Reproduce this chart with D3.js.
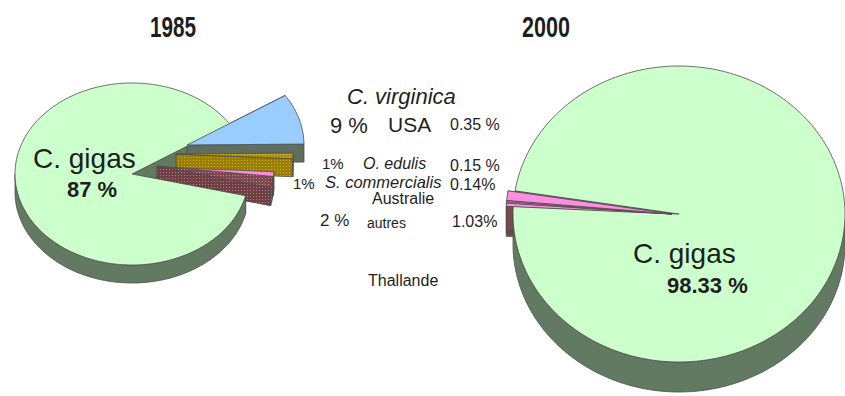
<!DOCTYPE html>
<html>
<head>
<meta charset="utf-8">
<script src="https://cdn.jsdelivr.net/npm/d3@7"></script>
<style>
  body { margin: 0; background: #fff; }
  text { font-family: "Liberation Sans", Arial, Helvetica, sans-serif; fill: #1e1e1e; }
</style>
</head>
<body>
<svg id="chart" width="845" height="396"></svg>
<script>
// Oyster production shares by species
const species   = ["C. gigas", "C. virginica", "O. edulis", "S. commercialis", "autres"];
const values1985 = [87, 9, 1, 1, 2];
const values2000 = [98.33, 0.35, 0.15, 0.14, 1.03];
const labels1985 = ["87 %", "9 %", "1%", "1%", "2 %"];
const labels2000 = ["98.33 %", "0.35 %", "0.15 %", "0.14%", "1.03%"];
const countries  = ["USA", "Australie", "Thallande"];
const years      = ["1985", "2000"];

const svg = d3.select("#chart");
const defs = svg.append("defs");

// dotted textures for the small slices
function dots(id, bg, dot) {
  const p = defs.append("pattern").attr("id", id)
    .attr("patternUnits", "userSpaceOnUse").attr("width", 3).attr("height", 3);
  p.append("rect").attr("width", 3).attr("height", 3).attr("fill", bg);
  p.append("rect").attr("x", 1).attr("y", 1).attr("width", 1).attr("height", 1).attr("fill", dot);
}
dots("oliveDots", "#b09207", "#e2c63c");
dots("oliveSide", "#9a7f04", "#c9aa2a");
dots("brownDots", "#7c4a4a", "#d77fb6");
dots("brownSide", "#6e4141", "#c56ea5");

const TAU = 2 * Math.PI;
const deg = d => d * Math.PI / 180;

// Draws an extruded elliptical pie with optional per-slice offsets
function pie3d(g, values, o) {
  const arcs = d3.pie().sort(null).value(d => d)
    .startAngle(o.start).endAngle(o.start + TAU)(values);
  const D = o.depth;
  const pt = (p, a, dz = 0) => [p.cx + o.rx * Math.cos(a), p.cy + o.ry * Math.sin(a) + dz];
  const arcPts = (p, a0, a1, dz = 0) => {
    const n = Math.max(2, Math.ceil(Math.abs(a1 - a0) / deg(1.5)));
    return d3.range(n + 1).map(k => pt(p, a0 + (a1 - a0) * k / n, dz));
  };
  const line = d3.line();
  const pieces = arcs.map((d, i) => {
    const off = o.offsets[i] || [0, 0];
    return { a0: d.startAngle, a1: d.endAngle, i, cx: o.cx + off[0], cy: o.cy + off[1] };
  });
  const radial = (p, a) => {
    const e = pt(p, a);
    return line([[p.cx, p.cy], e, [e[0], e[1] + D], [p.cx, p.cy + D]]) + "Z";
  };
  const stroke = (sel) => sel.attr("stroke", "#4d4d4d").attr("stroke-width", 0.8)
    .attr("stroke-linejoin", "round");

  // radial faces: hidden ones first, then the ones facing the viewer
  const faces = [];
  pieces.forEach(p => {
    faces.push({ p, a: p.a0, vis: Math.cos(p.a0) < 0 });
    faces.push({ p, a: p.a1, vis: Math.cos(p.a1) > 0 });
  });
  faces.sort((x, y) => (x.vis - y.vis));
  faces.forEach(f => {
    g.append("path").attr("d", radial(f.p, f.a)).attr("fill", o.side[f.p.i]).call(stroke);
  });

  // outer walls on the front half of the ellipse
  pieces.forEach(p => {
    for (let k = Math.floor(p.a0 / TAU) - 1; k <= Math.ceil(p.a1 / TAU); k++) {
      const b0 = Math.max(p.a0, k * TAU), b1 = Math.min(p.a1, k * TAU + Math.PI);
      if (b1 - b0 > 1e-4) {
        const top = arcPts(p, b0, b1), bot = arcPts(p, b0, b1, D).reverse();
        g.append("path").attr("d", line(top.concat(bot)) + "Z")
          .attr("fill", o.side[p.i]).call(stroke);
      }
    }
  });

  // top faces
  pieces.forEach(p => {
    const pts = [[p.cx, p.cy]].concat(arcPts(p, p.a0, p.a1));
    g.append("path").attr("d", line(pts) + "Z").attr("fill", o.top[p.i]).call(stroke);
  });
}

// 1985
pie3d(svg.append("g"), values1985, {
  cx: 132, cy: 174, rx: 117, ry: 91, depth: 18, start: deg(13.8),
  offsets: [[0, 0], [55, -29], [44, -20], [25, -7], [25, -8]],
  top:  ["#ccffcc", "#99ccff", "url(#oliveDots)", "#ff8ee0", "url(#brownDots)"],
  side: ["#627a62", "#5f6e5f", "url(#oliveSide)", "#7b4a4a", "url(#brownSide)"]
});

// 2000
pie3d(svg.append("g"), values2000, {
  cx: 679, cy: 214, rx: 166, ry: 148, depth: 30, start: deg(189),
  offsets: [[0, 0], [-7, 0], [-7, 0], [-7, 0], [-7, 0]],
  top:  ["#ccffcc", "#ff8ee0", "#ff8ee0", "#ff8ee0", "#ff8ee0"],
  side: ["#627a62", "#7b4a4a", "#7b4a4a", "#7b4a4a", "#7b4a4a"]
});

// titles
const txt = (x, y, s, size, extra) => {
  const t = svg.append("text").attr("x", x).attr("y", y).attr("font-size", size).text(s);
  if (extra) extra(t);
  return t;
};
const bold = t => t.attr("font-weight", "bold");
const ital = t => t.attr("font-style", "italic");

txt(150, 37, years[0], 30, t => bold(t).attr("fill", "#2a2a2a").attr("textLength", 46).attr("lengthAdjust", "spacingAndGlyphs"));
txt(522, 37, years[1], 30, t => bold(t).attr("fill", "#2a2a2a").attr("textLength", 48).attr("lengthAdjust", "spacingAndGlyphs"));

// labels inside the pies
txt(33, 168, species[0], 28);
txt(67, 197, labels1985[0], 22, bold);
txt(633, 263, species[0], 28);
txt(667, 293, labels2000[0], 22, bold);

// middle column
txt(347, 104, species[1], 22, ital);
txt(330, 133, labels1985[1], 22);
txt(388, 132, countries[0], 21);
txt(450, 130, labels2000[1], 16);

txt(322, 169, labels1985[2], 15);
txt(363, 169, species[2], 16, ital);
txt(450, 171, labels2000[2], 16);

txt(293, 189, labels1985[3], 15);
txt(325, 188, species[3], 16.5, ital);
txt(450, 190, labels2000[3], 16);
txt(372, 204, countries[1], 16);

txt(320, 226, labels1985[4], 17);
txt(367, 228, species[4], 14);
txt(452, 227, labels2000[4], 16);

txt(368, 286, countries[2], 16);
</script>
</body>
</html>
